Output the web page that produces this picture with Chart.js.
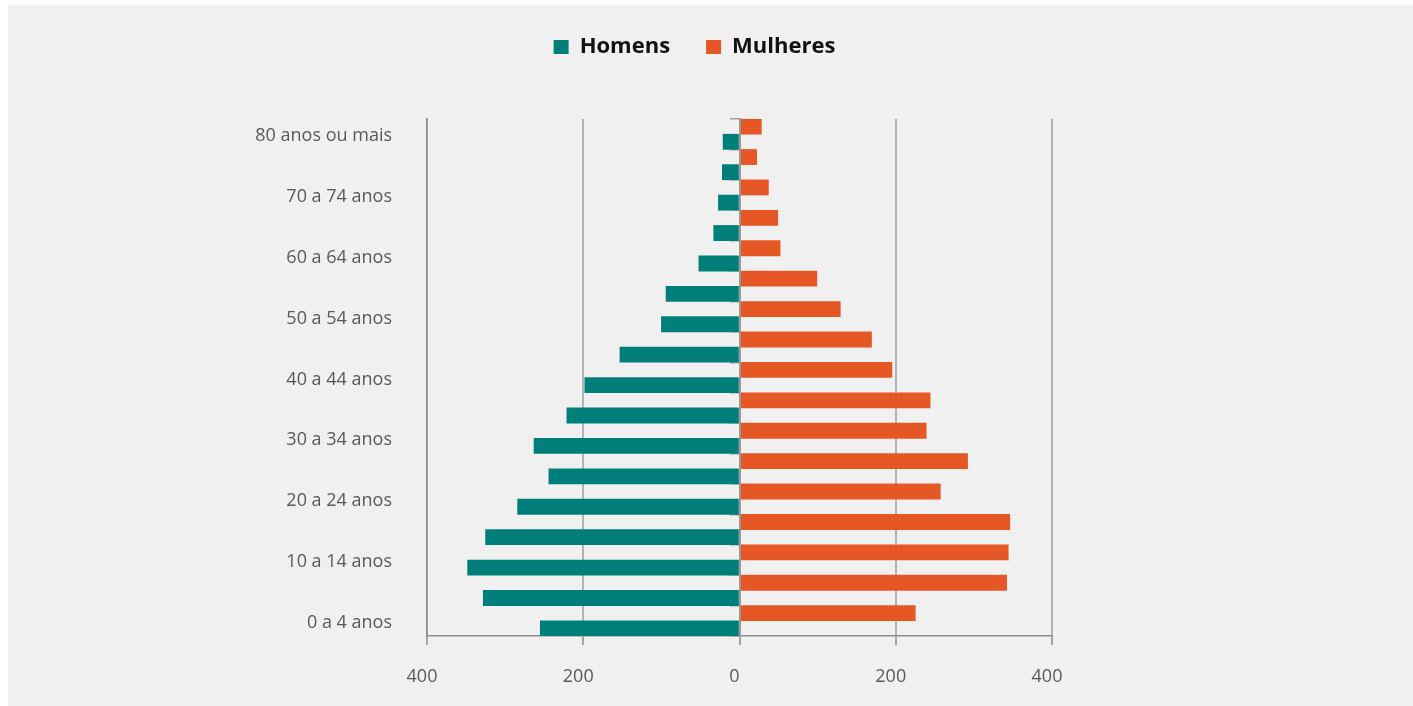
<!DOCTYPE html>
<html>
<head>
<meta charset="utf-8">
<script src="https://cdn.jsdelivr.net/npm/chart.js@4/dist/chart.umd.min.js"></script>
<style>
  html, body { margin: 0; padding: 0; background: #ffffff; }
  #panel { position: absolute; left: 8px; top: 5px; right: 0; bottom: 0; background: #f0f0f0; }
  #wrap { position: absolute; left: 0; top: 0; width: 1413px; height: 706px; }
</style>
</head>
<body>
<div id="panel"></div>
<div id="wrap"><canvas id="pyramidChart"></canvas></div>
<script>
// faixas etárias, de cima para baixo
const faixas = [
  "80 anos ou mais", "75 a 79 anos", "70 a 74 anos", "65 a 69 anos",
  "60 a 64 anos", "55 a 59 anos", "50 a 54 anos", "45 a 49 anos",
  "40 a 44 anos", "35 a 39 anos", "30 a 34 anos", "25 a 29 anos",
  "20 a 24 anos", "15 a 19 anos", "10 a 14 anos", "5 a 9 anos", "0 a 4 anos"
];
// homens ficam à esquerda (valores negativos)
const homens = [-21, -22, -27, -33, -52, -94, -100, -153, -198, -221, -263, -244, -284, -325, -348, -328, -255];
const mulheres = [28, 22, 37, 49, 52, 99, 129, 169, 195, 244, 239, 292, 257, 346, 344, 342, 225];
const xTicks = [-400, -200, 0, 200, 400];

document.addEventListener("DOMContentLoaded", function () {
    const ctx = document.getElementById("pyramidChart").getContext("2d");
    new Chart(ctx, {
        type: "bar",
        data: {
            labels: faixas,
            datasets: [{
                label: "Mulheres",
                data: mulheres,
                backgroundColor: "#e55826",
                barPercentage: 1,
                categoryPercentage: 1
            }, {
                label: "Homens",
                data: homens,
                backgroundColor: "#007f7a",
                barPercentage: 1,
                categoryPercentage: 1
            }]
        },
        options: {
            indexAxis: "y",
            responsive: true,
            maintainAspectRatio: false,
            animation: false,
            layout: { padding: { left: 0, right: 24, top: 0, bottom: 0 } },
            plugins: {
                legend: {
                    position: "top",
                    reverse: true,
                    labels: {
                        boxWidth: 15,
                        boxHeight: 14,
                        padding: 36,
                        color: "#111111",
                        font: { family: "'Open Sans'", size: 22, weight: "bold" }
                    }
                },
                tooltip: { enabled: false }
            },
            scales: {
                x: {
                    type: "linear",
                    min: -400,
                    max: 400,
                    afterBuildTicks: (s) => { s.ticks = xTicks.map(v => ({ value: v })); },
                    afterFit: (s) => { s.height = 70; },
                    ticks: {
                        callback: (v) => Math.abs(v),
                        color: "#595959",
                        padding: 21,
                        labelOffset: -5,
                        font: { family: "'Open Sans'", size: 18 }
                    },
                    grid: { color: "#b3b3b3", lineWidth: 2, tickLength: 9, tickColor: "#8c8c8c", tickWidth: 1.5 },
                    border: { color: "#8c8c8c", width: 1.5 }
                },
                xTop: {
                    type: "linear",
                    position: "top",
                    display: true,
                    afterFit: (s) => { s.height = 51; },
                    ticks: { display: false },
                    grid: { display: false, drawTicks: false },
                    border: { display: false }
                },
                y: {
                    type: "category",
                    position: "left",
                    offset: true,
                    afterFit: (s) => { s.width = 427; },
                    ticks: {
                        autoSkip: false,
                        padding: 35,
                        labelOffset: 2,
                        color: "#595959",
                        font: { family: "'Open Sans'", size: 18 },
                        callback: function (v, i) { return i % 2 === 0 ? this.getLabelForValue(v) : ""; }
                    },
                    grid: { display: false, drawTicks: false, offset: true },
                    border: { display: true, color: "#8c8c8c", width: 1.5 }
                },
                yMid: {
                    type: "category",
                    position: { x: 0 },
                    display: true,
                    offset: true,
                    ticks: { display: false },
                    grid: { drawOnChartArea: false, drawTicks: true, tickLength: 9, offset: true, color: "#a0a0a0", lineWidth: 1.5 },
                    border: { display: true, color: "#999999", width: 2, z: 1 }
                },
                yRight: {
                    type: "linear",
                    position: "right",
                    display: true,
                    afterFit: (s) => { s.width = 337; },
                    ticks: { display: false },
                    grid: { display: false, drawTicks: false },
                    border: { display: false }
                }
            }
        }
    });
});
</script>
</body>
</html>
